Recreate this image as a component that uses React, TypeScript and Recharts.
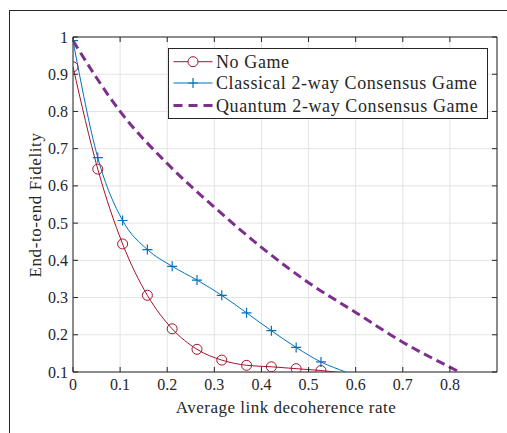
import { CartesianGrid, Line, LineChart, ReferenceArea, XAxis, YAxis } from "recharts";

// Sample positions of the two simulated curves (markers on the first 11).
const sampleX = [0, 0.0526, 0.1053, 0.1579, 0.2105, 0.2632, 0.3158, 0.3684, 0.4211, 0.4737, 0.5263, 0.5789, 0.6316];
const noGameY = [0.92, 0.645, 0.444, 0.306, 0.216, 0.161, 0.132, 0.118, 0.114, 0.109, 0.104, 0.097, 0.092];
const classicalY = [0.99, 0.676, 0.507, 0.429, 0.384, 0.347, 0.306, 0.259, 0.211, 0.166, 0.127, 0.1, 0.075];
const quantumX = [0, 0.1, 0.2, 0.3, 0.4, 0.5, 0.6, 0.7, 0.8, 0.9];
const quantumY = [0.99, 0.8, 0.66, 0.543, 0.435, 0.34, 0.26, 0.18, 0.113, 0.05];
const MARKER_COUNT = 11;

const xTicks = [0, 0.1, 0.2, 0.3, 0.4, 0.5, 0.6, 0.7, 0.8];
const xTickLabels = ["0", "0.1", "0.2", "0.3", "0.4", "0.5", "0.6", "0.7", "0.8"];
const yTicks = [0.1, 0.2, 0.3, 0.4, 0.5, 0.6, 0.7, 0.8, 0.9, 1];
const yTickLabels = ["0.1", "0.2", "0.3", "0.4", "0.5", "0.6", "0.7", "0.8", "0.9", "1"];

const noGameData = sampleX.map((x, i) => ({ x, y: noGameY[i] }));
const classicalData = classicalY.map((y, i) => ({ x: sampleX[i], y }));
const quantumData = quantumX.map((x, i) => ({ x, y: quantumY[i] }));

const RED = "#A2142F";
const BLUE = "#0072BD";
const PURPLE = "#7E2F8E";
const AXIS = "#262626";
const FONT = "Liberation Serif, DejaVu Serif, serif";
const serif = { fontFamily: FONT };

// plot box in pixels, used only for the inward MATLAB-style ticks
const PLOT = { left: 73, right: 497, top: 37, bottom: 372 };

function XTick(props: any) {
  const { x, payload, index } = props;
  return (
    <g>
      <line x1={x} x2={x} y1={PLOT.bottom} y2={PLOT.bottom - 5} stroke={AXIS} />
      <line x1={x} x2={x} y1={PLOT.top} y2={PLOT.top + 5} stroke={AXIS} />
      <text x={x} y={PLOT.bottom + 18} textAnchor="middle" fontSize={16} style={serif} fill={AXIS}>
        {xTickLabels[index] ?? String(payload.value)}
      </text>
    </g>
  );
}

function YTick(props: any) {
  const { y, payload, index } = props;
  return (
    <g>
      <line x1={PLOT.left} x2={PLOT.left + 5} y1={y} y2={y} stroke={AXIS} />
      <line x1={PLOT.right} x2={PLOT.right - 5} y1={y} y2={y} stroke={AXIS} />
      <text x={PLOT.left - 5} y={y + 5.5} textAnchor="end" fontSize={16} style={serif} fill={AXIS}>
        {yTickLabels[index] ?? String(payload.value)}
      </text>
    </g>
  );
}

function CircleDot(props: any) {
  const { cx, cy, index } = props;
  if (index >= MARKER_COUNT || cx == null) return <g key={`c${index}`} />;
  return <circle key={`c${index}`} cx={cx} cy={cy} r={5} fill="none" stroke={RED} strokeWidth={1} />;
}

function PlusDot(props: any) {
  const { cx, cy, index } = props;
  if (index >= MARKER_COUNT || cx == null) return <g key={`p${index}`} />;
  return (
    <path key={`p${index}`} d={`M${cx - 5},${cy}H${cx + 5}M${cx},${cy - 5}V${cy + 5}`} stroke={BLUE} strokeWidth={1.2} fill="none" />
  );
}

function LegendBox() {
  const rows = [
    { label: "No Game", y: 12.7 },
    { label: "Classical 2-way Consensus Game", y: 34 },
    { label: "Quantum 2-way Consensus Game", y: 56.5 },
  ];
  return (
    <div
      style={{
        position: "absolute",
        left: 168,
        top: 48,
        width: 318,
        height: 69,
        border: `1px solid ${AXIS}`,
        background: "#fff",
      }}
    >
      <svg width={318} height={69} style={{ display: "block" }}>
        <line x1={4.5} x2={43.5} y1={rows[0].y} y2={rows[0].y} stroke={RED} />
        <circle cx={24} cy={rows[0].y} r={5} fill="#fff" stroke={RED} />
        <line x1={4.5} x2={43.5} y1={rows[1].y} y2={rows[1].y} stroke={BLUE} />
        <path d={`M19,${rows[1].y}H29M24,${rows[1].y - 5}V${rows[1].y + 5}`} stroke={BLUE} strokeWidth={1.2} />
        <line x1={4.5} x2={43.5} y1={rows[2].y} y2={rows[2].y} stroke={PURPLE} strokeWidth={3} strokeDasharray="9 6" />
        {rows.map((r) => (
          <text key={r.label} x={47} y={r.y + 6} fontSize={18} letterSpacing={0.6} style={serif} fill={AXIS}>
            {r.label}
          </text>
        ))}
      </svg>
    </div>
  );
}

export default function App() {
  return (
    <div style={{ position: "absolute", left: 0, top: 0, width: 507, height: 433, overflow: "hidden", background: "#fff", ...serif }}>
      <div
        style={{
          position: "absolute",
          left: 9,
          top: 10,
          width: 600,
          height: 600,
          borderLeft: `1px solid ${AXIS}`,
          borderTop: `1px solid ${AXIS}`,
        }}
      />
      <div style={{ position: "absolute", left: 0, top: 0 }}>
        <LineChart width={507} height={433} margin={{ top: 37, right: 10, bottom: 21, left: 33 }} style={serif}>
          <CartesianGrid stroke="#e3e3e3" vertical horizontal />
          <XAxis
            dataKey="x"
            type="number"
            domain={[0, 0.9]}
            ticks={xTicks}
            allowDataOverflow
            axisLine={false}
            tickLine={false}
            height={40}
            tick={<XTick />}
            label={{
              content: () => (
                <text x={286} y={413} textAnchor="middle" fontSize={17} letterSpacing={0.5} style={serif} fill={AXIS}>
                  Average link decoherence rate
                </text>
              ),
            }}
          />
          <YAxis
            type="number"
            domain={[0.1, 1]}
            ticks={yTicks}
            allowDataOverflow
            axisLine={false}
            tickLine={false}
            width={40}
            tick={<YTick />}
            label={{
              content: () => (
                <text
                  x={35}
                  y={205}
                  transform="rotate(-90 35 205)"
                  textAnchor="middle"
                  dominantBaseline="central"
                  fontSize={17}
                  letterSpacing={0.6}
                  style={serif}
                  fill={AXIS}
                >
                  End-to-end Fidelity
                </text>
              ),
            }}
          />
          <ReferenceArea x1={0} x2={0.9} y1={0.1} y2={1} fill="none" stroke={AXIS} strokeWidth={1} />
          <Line
            data={quantumData}
            dataKey="y"
            type="monotone"
            stroke={PURPLE}
            strokeWidth={3}
            strokeDasharray="9 5"
            dot={false}
            activeDot={false}
            isAnimationActive={false}
          />
          <Line
            data={classicalData}
            dataKey="y"
            type="monotone"
            stroke={BLUE}
            strokeWidth={1}
            dot={<PlusDot />}
            activeDot={false}
            isAnimationActive={false}
          />
          <Line
            data={noGameData}
            dataKey="y"
            type="monotone"
            stroke={RED}
            strokeWidth={1}
            dot={<CircleDot />}
            activeDot={false}
            isAnimationActive={false}
          />
        </LineChart>
      </div>
      <LegendBox />
    </div>
  );
}
